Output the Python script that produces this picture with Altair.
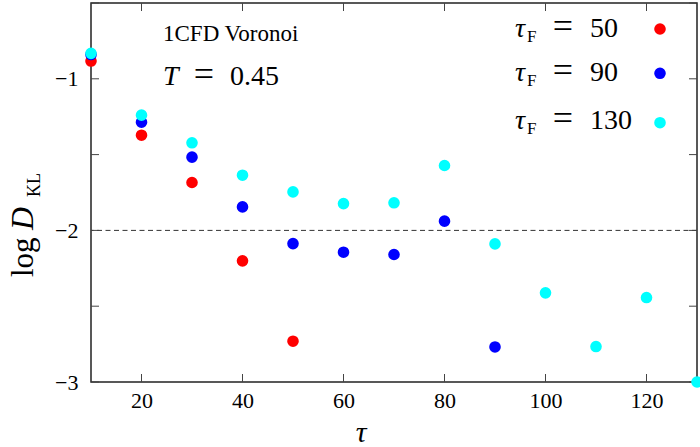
import altair as alt
import pandas as pd

# ---- data ----
tau_values = [10, 20, 30, 40, 50, 60, 70, 80, 90, 100, 110, 120, 130]
dkl_tf50 = [-0.883, -1.372, -1.684, -2.201, -2.731]
dkl_tf90 = [-0.84, -1.286, -1.517, -1.845, -2.087, -2.144, -2.159, -1.939, -2.769]
dkl_tf130 = [-0.832, -1.24, -1.422, -1.636, -1.746, -1.823, -1.818, -1.572,
             -2.089, -2.412, -2.766, -2.443, -3.0]
series_names = ["50", "90", "130"]
series_colors = ["#ff0000", "#0000ff", "#00ffff"]
x_tick_values = [20, 40, 60, 80, 100, 120]
y_tick_values = [-3.0, -2.5, -2.0, -1.5, -1.0, -0.5]
y_label_values = [-3, -2, -1]
threshold = [-2.0]

rows = []
for name, vals in zip(series_names, [dkl_tf50, dkl_tf90, dkl_tf130]):
    for t, v in zip(tau_values, vals):
        rows.append({"tau": t, "dkl": v, "tf": name})
df = pd.DataFrame(rows)

W, H = 606, 379
SERIF = "'Liberation Serif', 'DejaVu Serif', serif"

xscale = alt.Scale(domain=[10, 130], nice=False, zero=False, padding=0)
yscale = alt.Scale(domain=[-3, -0.5], nice=False, zero=False, padding=0)

x_axis = alt.Axis(values=x_tick_values, ticks=False, domain=False, grid=False,
                  labelFont=SERIF, labelFontSize=22, labelColor="black",
                  labelPadding=8, title=None, labelFlush=False)
y_axis = alt.Axis(values=y_label_values, ticks=False, domain=False, grid=False,
                  labelFont=SERIF, labelFontSize=22, labelColor="black",
                  labelPadding=13, title=None, format="d", labelFlush=False)

points = alt.Chart(df).mark_circle(size=135, opacity=1, clip=False).encode(
    x=alt.X("tau:Q", scale=xscale, axis=x_axis),
    y=alt.Y("dkl:Q", scale=yscale, axis=y_axis),
    color=alt.Color("tf:N", scale=alt.Scale(domain=series_names, range=series_colors), legend=None),
)

dash = alt.Chart(pd.DataFrame({"y": threshold})).mark_rule(
    color="#333333", strokeWidth=1, strokeDash=[5, 3.5]
).encode(y=alt.Y("y:Q", scale=yscale, axis=y_axis))

xt = pd.DataFrame({"v": x_tick_values})
yt = pd.DataFrame({"v": y_tick_values})
TL = 8
tick_style = dict(color="#444444", strokeWidth=1)
bottom_ticks = alt.Chart(xt).mark_rule(**tick_style).encode(
    x=alt.X("v:Q", scale=xscale, axis=x_axis), y=alt.value(H), y2=alt.value(H - TL))
top_ticks = alt.Chart(xt).mark_rule(**tick_style).encode(
    x=alt.X("v:Q", scale=xscale, axis=x_axis), y=alt.value(0), y2=alt.value(TL))
left_ticks = alt.Chart(yt).mark_rule(**tick_style).encode(
    y=alt.Y("v:Q", scale=yscale, axis=y_axis), x=alt.value(0), x2=alt.value(TL))
right_ticks = alt.Chart(yt).mark_rule(**tick_style).encode(
    y=alt.Y("v:Q", scale=yscale, axis=y_axis), x=alt.value(W), x2=alt.value(W - TL))

one = pd.DataFrame({"a": [0]})


def txt(s, x, y, size, italic=False, angle=0, align="left", font=SERIF):
    kw = dict(text=s, font=font, fontSize=size, color="black", align=align,
              baseline="alphabetic")
    if italic:
        kw["fontStyle"] = "italic"
    if angle:
        kw["angle"] = angle
    return alt.Chart(one).mark_text(**kw).encode(x=alt.value(x), y=alt.value(y))


layers = [dash, bottom_ticks, top_ticks, left_ticks, right_ticks, points]

# legend (manual, text on the left, marker on the right)
leg_base = [34, 78, 126]
leg_mark = [26, 70.3, 119.7]
for name, col, b, m in zip(series_names, series_colors, leg_base, leg_mark):
    layers.append(txt("τ", 424, b, 28, italic=True))
    layers.append(txt("F", 436, b + 5, 17))
    layers.append(txt("=", 472, b + 1, 36, align="center"))
    layers.append(txt(name, 499, b, 28))
    layers.append(alt.Chart(one).mark_circle(size=135, opacity=1, color=col).encode(
        x=alt.value(569), y=alt.value(m)))

# annotations
layers.append(txt("1CFD Voronoi", 72, 38, 23))
layers.append(txt("T", 72, 82, 28, italic=True))
layers.append(txt("=", 113, 83, 36, align="center"))
layers.append(txt("0.45", 139, 82, 28))

# axis titles
layers.append(txt("τ", 270, 439, 30, italic=True, align="center"))
layers.append(txt("log", -58, 274, 31, angle=270))
layers.append(txt("D", -58, 227, 32, italic=True, angle=270))
layers.append(txt("KL", -51, 194, 18, angle=270))

chart = alt.layer(*layers).properties(
    width=W, height=H,
    padding={"left": 91, "top": 3, "right": 3, "bottom": 65},
    autosize=alt.AutoSizeParams(type="none"),
).configure(
    background="white",
    view=alt.ViewConfig(stroke="#222222", strokeWidth=1.5),
)

chart.save("out.html", embed_options={"renderer": "svg", "actions": False})
